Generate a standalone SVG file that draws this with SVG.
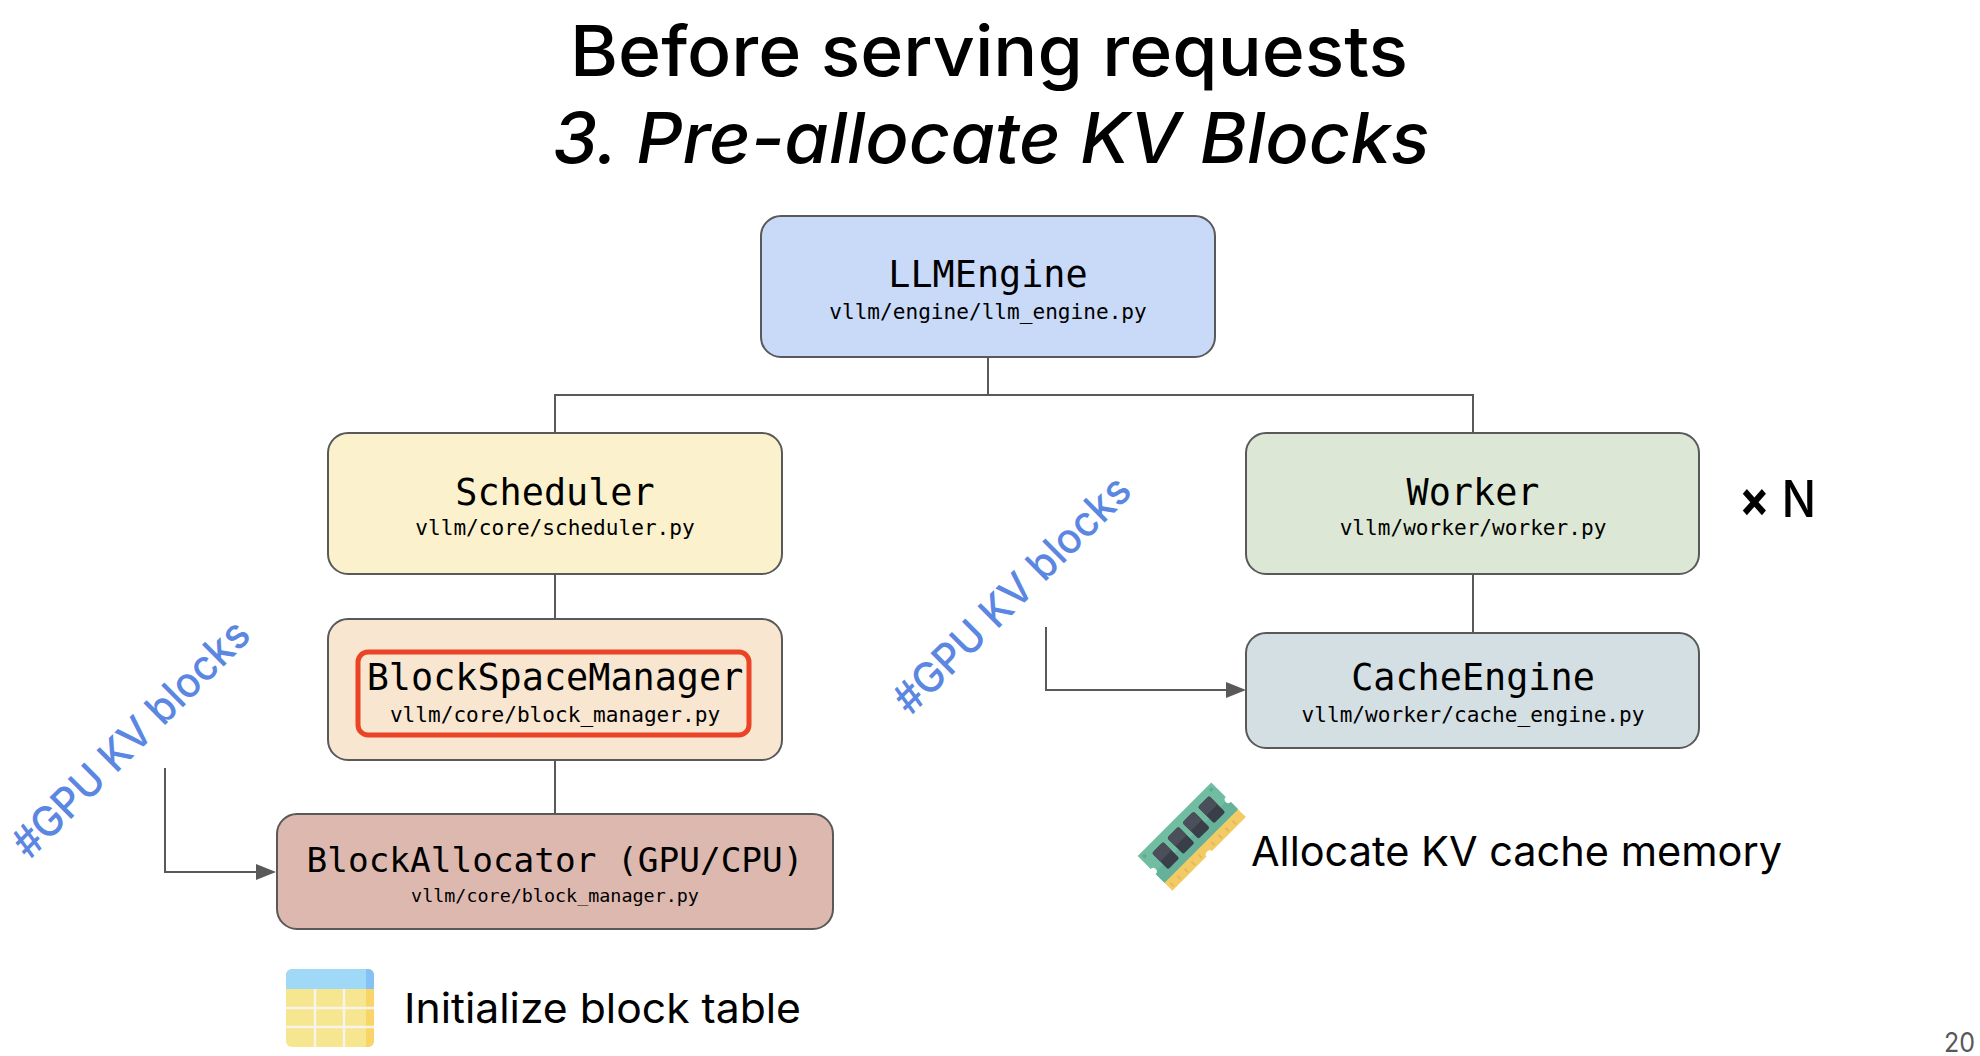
<svg xmlns="http://www.w3.org/2000/svg" width="1980" height="1056" viewBox="0 0 1980 1056">
<style>
.n{stroke:#595959;stroke-width:2}
.m{font-family:"DejaVu Sans Mono","Liberation Mono",monospace;fill:#000;text-anchor:middle}
.b{font-size:36.8px}
.s{font-size:21.1px}
.t{font-family:"Inter","Lato",sans-serif;font-weight:500;fill:#000}
.l{font-family:"Inter","Lato",sans-serif;font-weight:400;font-size:41px;fill:#000}
.c{fill:none;stroke:#595959;stroke-width:2}
.k{font-family:"Inter","Lato",sans-serif;font-weight:500;font-size:42px;fill:#5b87e2;text-anchor:middle}
.a{fill:#595959}
</style>
<rect width="1980" height="1056" fill="#fff"/>
<g id="title">
<text class="t" x="989" y="76" font-size="70" text-anchor="middle" textLength="838" lengthAdjust="spacingAndGlyphs">Before serving requests</text>
<text class="t" x="991" y="163" font-size="70" font-style="italic" text-anchor="middle" textLength="877" lengthAdjust="spacingAndGlyphs">3. Pre-allocate KV Blocks</text>
</g>
<g id="connectors">
<path class="c" d="M988 358V395M555 433V395H1473V433M555 575V619M555 761V814M1473 575V633"/>
<path class="c" d="M165 768V872H257"/>
<path class="a" d="M256 864L276 872L256 880Z"/>
<path class="c" d="M1046 627V690H1227"/>
<path class="a" d="M1226 682L1246 690L1226 698Z"/>
</g>
<g id="llmengine"><rect class="n" x="761" y="216" width="454" height="141" rx="20" fill="#c9daf8"/>
<text class="m b" x="988" y="287">LLMEngine</text><text class="m s" x="988" y="319">vllm/engine/llm_engine.py</text></g>
<g id="scheduler"><rect class="n" x="328" y="433" width="454" height="141" rx="20" fill="#fcf1cd"/>
<text class="m b" x="555" y="505">Scheduler</text><text class="m s" x="555" y="535">vllm/core/scheduler.py</text></g>
<g id="worker"><rect class="n" x="1246" y="433" width="453" height="141" rx="20" fill="#dce8d5"/>
<text class="m b" x="1473" y="505">Worker</text><text class="m s" x="1473" y="535">vllm/worker/worker.py</text></g>
<g id="blockspacemanager"><rect class="n" x="328" y="619" width="454" height="141" rx="20" fill="#f8e6d0"/>
<rect x="358" y="652" width="391" height="83" rx="10" fill="none" stroke="#ea4325" stroke-width="5"/>
<text class="m b" x="555" y="690">BlockSpaceManager</text><text class="m s" x="555" y="722">vllm/core/block_manager.py</text></g>
<g id="cacheengine"><rect class="n" x="1246" y="633" width="453" height="115" rx="20" fill="#d3dfe3"/>
<text class="m b" x="1473" y="690">CacheEngine</text><text class="m s" x="1473" y="722">vllm/worker/cache_engine.py</text></g>
<g id="blockallocator"><rect class="n" x="277" y="814" width="556" height="115" rx="20" fill="#ddb8ae"/>
<text class="m" font-size="34.4" x="555" y="872">BlockAllocator (GPU/CPU)</text><text class="m" font-size="18.4" x="555" y="902">vllm/core/block_manager.py</text></g>
<g id="kv-left"><text class="k" transform="translate(141 749) rotate(-45)" textLength="316" lengthAdjust="spacingAndGlyphs">#GPU KV blocks</text></g>
<g id="kv-right"><text class="k" transform="translate(1022 605) rotate(-45)" textLength="316" lengthAdjust="spacingAndGlyphs">#GPU KV blocks</text></g>
<g id="times-n"><text class="t" x="1739" y="517" font-size="51" textLength="77" lengthAdjust="spacingAndGlyphs"><tspan font-weight="700">×</tspan> N</text></g>
<g id="ram-icon" transform="translate(1137.7 856) rotate(-45)">
<rect x="0" y="36" width="104" height="13" fill="#f3cb66"/>
<path d="M4 42V47M14 42V47M24 42V47M34 42V47M44 42V47M62 42V47M72 42V47M82 42V47M92 42V47" stroke="#e3b85c" stroke-width="2"/>
<path d="M0 0H104V37H0Z" fill="#70bda2"/>
<path d="M0 24H104V38H0Z" fill="#65b19a"/>
<circle cx="52" cy="50" r="4" fill="#fff"/>
<circle cx="0" cy="22" r="3.5" fill="#fff"/><circle cx="104" cy="24" r="3.5" fill="#fff"/>
<circle cx="5" cy="5" r="2" fill="#62ab93"/><circle cx="99" cy="5" r="2" fill="#62ab93"/>
<g fill="#3a3e48"><rect x="12" y="8" width="16" height="23" rx="2"/><rect x="33.5" y="8" width="16" height="23" rx="2"/><rect x="55" y="8" width="16" height="23" rx="2"/><rect x="77" y="8" width="16" height="23" rx="2"/></g>
<g fill="#4b4f5a"><rect x="12" y="8" width="16" height="12" rx="2"/><rect x="33.5" y="8" width="16" height="12" rx="2"/><rect x="55" y="8" width="16" height="12" rx="2"/><rect x="77" y="8" width="16" height="12" rx="2"/></g>
</g>
<g id="allocate-label"><text class="l" x="1251" y="866" textLength="531" lengthAdjust="spacingAndGlyphs">Allocate KV cache memory</text></g>
<g id="table-icon">
<rect x="286" y="969" width="88" height="78" rx="6" fill="#f5e68f"/>
<path d="M286 989V975a6 6 0 0 1 6-6h76a6 6 0 0 1 6 6v14Z" fill="#a0d8f8"/>
<path d="M366 969h2a6 6 0 0 1 6 6v14h-8Z" fill="#86c1f6"/>
<path d="M366 989h8v52a6 6 0 0 1-6 6h-2Z" fill="#f8d566"/>
<path d="M315 989V1047M344 989V1047M286 1008H374M286 1027H374" stroke="#faf3ea" stroke-width="2.5"/>
</g>
<g id="table-label"><text class="l" x="404" y="1023" textLength="397" lengthAdjust="spacingAndGlyphs">Initialize block table</text></g>
<g id="page"><text x="1944" y="1052" font-family="Inter,Lato,sans-serif" font-size="27" fill="#595959" textLength="31" lengthAdjust="spacingAndGlyphs">20</text></g>
</svg>
